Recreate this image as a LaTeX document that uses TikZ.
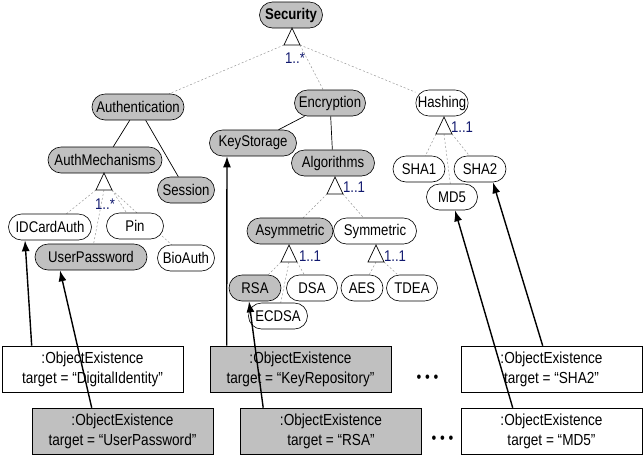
\documentclass[tikz,border=0pt]{standalone}
\usepackage{fontspec}
\setmainfont{Liberation Sans}[FakeStretch=0.85]
\usetikzlibrary{arrows.meta}
\definecolor{featgray}{RGB}{192,192,192}
\definecolor{cardblue}{RGB}{16,24,110}
\pgfdeclarelayer{back}
\pgfsetlayers{back,main}
\tikzset{
    Feat/.style = {draw=black, rounded corners=13pt, minimum height=26pt, inner xsep=2pt, inner ysep=0pt, fill=white, line width=0.6pt, font=\fontsize{15.5}{17}\selectfont},
    FeatSel/.style = {Feat, fill=featgray}
}
\tikzset{
    Obj/.style = {draw=black, rectangle, minimum width=181pt, minimum height=46pt, align=center, fill=white, line width=0.6pt, font=\fontsize{16}{20}\selectfont},
    ObjSel/.style = {Obj, fill=featgray},
    Card/.style = {inner sep=0pt, text=cardblue, font=\fontsize{15.5}{17}\selectfont},
    Opt/.style = {draw=black!40, line width=0.5pt, dash pattern=on 2pt off 2pt},
    Mand/.style = {draw=black, line width=0.7pt},
    Trace/.style = {draw=black, line width=1.4pt, -{Latex[length=11pt,width=8pt]}},
    grouptri/.pic = {
        \draw[fill=white, line width=0.7pt] (0,0) -- (-8,17) -- (8,17) -- cycle;
        \coordinate (-l) at (-8,17);
        \coordinate (-m) at (0,17);
        \coordinate (-r) at (8,17);
    }
}
\begin{document}
\begin{tikzpicture}[x=1pt, y=-1pt]
\useasboundingbox (0,0) rectangle (643,475);
% feature tree
\node[FeatSel, font=\fontsize{15.5}{17}\selectfont\bfseries, minimum width=63pt] at (291,15) (security) {Security};
\node[FeatSel, minimum width=92pt] at (138,107) (authentication) {Authentication};
\node[FeatSel, minimum width=71pt] at (330,103) (encryption) {Encryption};
\node[Feat, minimum width=51pt] at (442,103) (hashing) {Hashing};
\node[FeatSel, minimum width=114pt] at (105,160) (authmech) {AuthMechanisms};
\node[FeatSel, minimum width=57pt] at (186,190) (session) {Session};
\node[FeatSel, minimum width=87pt] at (253,143) (keystorage) {KeyStorage};
\node[FeatSel, minimum width=83pt] at (333,163) (algorithms) {Algorithms};
\node[Feat, minimum width=83pt] at (50,227) (idcard) {IDCardAuth};
\node[Feat, minimum width=57pt] at (135,226) (pin) {Pin};
\node[FeatSel, minimum width=112pt] at (91,257) (userpw) {UserPassword};
\node[Feat, minimum width=57pt] at (186,258) (bioauth) {BioAuth};
\node[FeatSel, minimum width=86pt] at (290,231) (asym) {Asymmetric};
\node[Feat, minimum width=83pt] at (375,231) (sym) {Symmetric};
\node[FeatSel, minimum width=52pt] at (255,288) (rsa) {RSA};
\node[Feat, minimum width=51pt] at (312,288) (dsa) {DSA};
\node[Feat, minimum width=59pt] at (278,316) (ecdsa) {ECDSA};
\node[Feat, minimum width=42pt] at (362,288) (aes) {AES};
\node[Feat, minimum width=51pt] at (412,288) (tdea) {TDEA};
\node[Feat, minimum width=52pt] at (419,169) (sha1) {SHA1};
\node[Feat, minimum width=52pt] at (480,169) (sha2) {SHA2};
\node[Feat, minimum width=51pt] at (452,197) (md5) {MD5};
% group triangles and cardinalities
\pic (tsec) at (292,28) {grouptri};
\pic (tauth) at (104,173) {grouptri};
\pic (talgo) at (335,177) {grouptri};
\pic (thash) at (444,117) {grouptri};
\pic (tasym) at (289,245) {grouptri};
\pic (tsym) at (376,245) {grouptri};
\node[Card] at (295,58) (csec) {1..*};
\node[Card] at (105,204) (cauth) {1..*};
\node[Card] at (354,187) (calgo) {1..1};
\node[Card] at (462,127) (chash) {1..1};
\node[Card] at (310,256) (casym) {1..1};
\node[Card] at (395,256) (csym) {1..1};
\begin{pgfonlayer}{back}
\path (tsec-l) edge [Opt] (authentication);
\path (tsec-r) edge [Opt] (encryption);
\path (tsec-r) edge [Opt] (hashing);
\path (tauth-l) edge [Opt] (idcard);
\path (tauth-m) edge [Opt] (userpw);
\path (tauth-r) edge [Opt] (pin);
\path (tauth-r) edge [Opt] (bioauth);
\path (talgo-l) edge [Opt] (asym);
\path (talgo-r) edge [Opt] (sym);
\path (thash-l) edge [Opt] (sha1);
\path (thash-m) edge [Opt] (md5);
\path (thash-r) edge [Opt] (sha2);
\path (tasym-l) edge [Opt] (rsa);
\path (tasym-m) edge [Opt] (ecdsa);
\path (tasym-r) edge [Opt] (dsa);
\path (tsym-m) edge [Opt] (aes);
\path (tsym-r) edge [Opt] (tdea);
\end{pgfonlayer}
\path (authentication) edge [Mand] (authmech);
\path (authentication) edge [Mand] (session);
\path (encryption) edge [Mand] (keystorage);
\path (encryption) edge [Mand] (algorithms);
% object existence constraints
\node[Obj] at (92.5,369) (oeident) {:ObjectExistence\\target = “DigitalIdentity”};
\node[ObjSel] at (122.5,431) (oeuserpw) {:ObjectExistence\\target = “UserPassword”};
\node[ObjSel] at (300.5,369) (oekeyrepo) {:ObjectExistence\\target = “KeyRepository”};
\node[ObjSel] at (331,431) (oersa) {:ObjectExistence\\target = “RSA”};
\node[Obj] at (551.5,369) (oesha2) {:ObjectExistence\\target = “SHA2”};
\node[Obj] at (551.5,431) (oemd5) {:ObjectExistence\\target = “MD5”};
\node[font=\fontsize{16}{16}\selectfont] at (427.5,379) (moreup) {• • •};
\node[font=\fontsize{16}{16}\selectfont] at (442.5,440) (moredown) {• • •};
\path ([xshift=30pt]oeident.north west) edge [Trace] ([xshift=-25pt]idcard.south);
\path ([xshift=60pt]oeuserpw.north west) edge [Trace] ([xshift=-31pt]userpw.south);
\path ([xshift=17pt]oekeyrepo.north west) edge [Trace] ([xshift=-26pt]keystorage.south);
\path ([xshift=23pt]oersa.north west) edge [Trace] ([xshift=-6pt]rsa.south);
\path ([xshift=82pt]oesha2.north west) edge [Trace] ([xshift=13pt]sha2.south);
\path ([xshift=52pt]oemd5.north west) edge [Trace] ([xshift=3pt]md5.south);
\end{tikzpicture}
\end{document}
